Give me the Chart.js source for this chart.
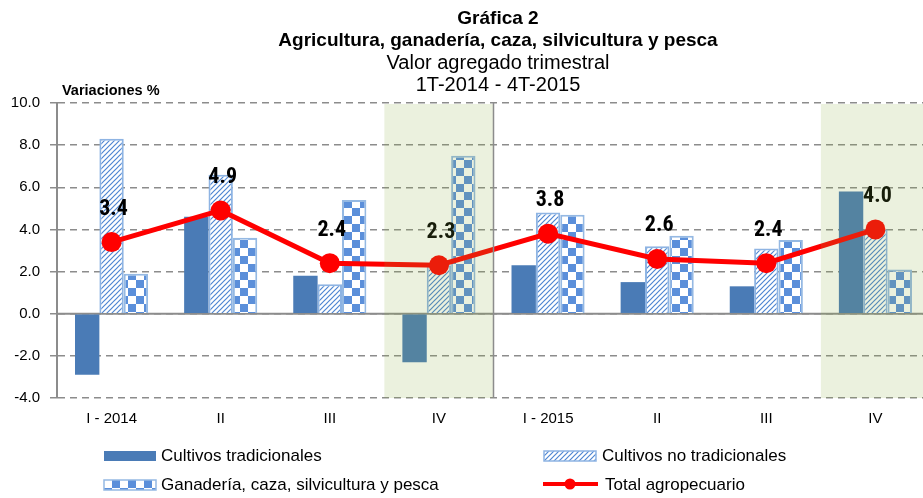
<!DOCTYPE html>
<html><head><meta charset="utf-8">
<script src="https://cdn.jsdelivr.net/npm/chart.js@4.4.0/dist/chart.umd.min.js"></script>
<style>
html,body{margin:0;padding:0;background:#fff;overflow:hidden;}
#wrap{width:923px;height:498px;overflow:hidden;position:relative;}
canvas{display:block;}
</style></head><body>
<div id="wrap"><canvas id="c" width="940" height="498"></canvas></div>
<script>
const categories = ['I - 2014', 'II', 'III', 'IV', 'I - 2015', 'II', 'III', 'IV'];
const cultivosTradicionales = [-2.9, 4.6, 1.8, -2.3, 2.3, 1.5, 1.3, 5.8];
const cultivosNoTradicionales = [8.3, 6.6, 1.4, 2.3, 4.8, 3.2, 3.1, 4.0];
const ganaderia = [1.9, 3.6, 5.4, 7.5, 4.7, 3.7, 3.5, 2.1];
const totalAgropecuario = [3.4, 4.9, 2.4, 2.3, 3.8, 2.6, 2.4, 4.0];
const yMin = -4, yMax = 10, yStep = 2;
const shadedCategories = [3, 7];
const seriesNames = ['Cultivos tradicionales', 'Cultivos no tradicionales', 'Ganadería, caza, silvicultura y pesca', 'Total agropecuario'];
const titleLines = ['Gráfica 2', 'Agricultura, ganadería, caza, silvicultura y pesca', 'Valor agregado trimestral', '1T-2014 - 4T-2015'];
const yAxisTitle = 'Variaciones %';

const FONT = '"Liberation Sans", Arial, sans-serif';
const NARROW = '"Liberation Sans Narrow", "Arial Narrow", "Roboto Condensed", "Liberation Sans", sans-serif';

function hatchPattern() {
  const c = document.createElement('canvas'); c.width = 5; c.height = 5;
  const g = c.getContext('2d');
  g.fillStyle = '#ffffff'; g.fillRect(0, 0, 5, 5);
  g.strokeStyle = '#4f86d2'; g.lineWidth = 1.2;
  g.beginPath();
  g.moveTo(0, 5); g.lineTo(5, 0);
  g.moveTo(-1, 1); g.lineTo(1, -1);
  g.moveTo(4, 6); g.lineTo(6, 4);
  g.stroke();
  return g.createPattern(c, 'repeat');
}
function checkPattern() {
  const c = document.createElement('canvas'); c.width = 16; c.height = 16;
  const g = c.getContext('2d');
  g.fillStyle = '#ffffff'; g.fillRect(0, 0, 16, 16);
  g.fillStyle = '#5b8fda';
  g.fillRect(0, 0, 8, 8); g.fillRect(8, 8, 8, 8);
  return g.createPattern(c, 'repeat');
}
const ctx0 = document.getElementById('c').getContext('2d');
const HATCH = hatchPattern();
const CHECK = checkPattern();
const DARK = '#4a7bb6';
const RED = '#ff0000';
const GRID = '#8c8c8c';

const overlay = {
  id: 'overlay',
  beforeDatasetsDraw(chart) {
    const {ctx, chartArea: a, scales: {y}} = chart;
    const y0 = y.getPixelForValue(0);
    ctx.save();
    ctx.strokeStyle = GRID; ctx.lineWidth = 2;
    ctx.beginPath(); ctx.moveTo(a.left, y0); ctx.lineTo(a.right, y0); ctx.stroke();
    ctx.restore();
  },
  afterDatasetsDraw(chart) {
    const {ctx, chartArea: a, scales: {x}} = chart;
    ctx.save();
    const meta = chart.getDatasetMeta(3);
    ctx.font = 'bold 22px ' + NARROW;
    ctx.fillStyle = '#000';
    ctx.textAlign = 'center'; ctx.textBaseline = 'middle';
    meta.data.forEach((pt, i) => {
      ctx.fillText(totalAgropecuario[i].toFixed(1), pt.x + 2, pt.y - 33);
    });
    const half = (x.getPixelForTick(1) - x.getPixelForTick(0)) / 2;
    ctx.fillStyle = 'rgba(138,173,62,0.17)';
    shadedCategories.forEach(i => {
      const cx = x.getPixelForTick(i);
      ctx.fillRect(cx - half, a.top + 1, 2 * half, a.bottom - a.top - 1);
    });
    const sx = x.getPixelForTick(4) - half;
    ctx.strokeStyle = GRID; ctx.lineWidth = 1.5;
    ctx.beginPath(); ctx.moveTo(sx, a.top); ctx.lineTo(sx, a.bottom); ctx.stroke();
    ctx.restore();
  },
  afterDraw(chart) {
    const {ctx} = chart;
    ctx.save();
    ctx.fillStyle = '#000';
    ctx.textAlign = 'center'; ctx.textBaseline = 'middle';
    const ty = [19, 41, 63, 85];
    titleLines.forEach((t, i) => {
      ctx.font = (i < 2 ? 'bold 19px ' : '20px ') + FONT;
      ctx.fillText(t, 498, ty[i]);
    });
    ctx.textAlign = 'left';
    ctx.font = 'bold 14.5px ' + FONT;
    ctx.fillText(yAxisTitle, 62, 91);
    ctx.font = '17px ' + FONT;
    const r1 = 456, r2 = 485;
    ctx.fillStyle = DARK; ctx.fillRect(104, r1 - 5, 52, 10);
    ctx.fillStyle = '#000'; ctx.fillText(seriesNames[0], 161, r1);
    ctx.fillStyle = HATCH; ctx.fillRect(544, r1 - 5, 52, 10);
    ctx.strokeStyle = '#8eb4e3'; ctx.lineWidth = 1.5; ctx.strokeRect(544, r1 - 5, 52, 10);
    ctx.fillStyle = '#000'; ctx.fillText(seriesNames[1], 602, r1);
    ctx.fillStyle = CHECK; ctx.fillRect(104, r2 - 5, 52, 10);
    ctx.strokeStyle = '#95b9e3'; ctx.strokeRect(104, r2 - 5, 52, 10);
    ctx.fillStyle = '#000'; ctx.fillText(seriesNames[2], 161, r2);
    ctx.strokeStyle = RED; ctx.lineWidth = 4;
    ctx.beginPath(); ctx.moveTo(543, r2 - 1); ctx.lineTo(598, r2 - 1); ctx.stroke();
    ctx.fillStyle = RED; ctx.beginPath(); ctx.arc(570, r2 - 1, 5.5, 0, Math.PI * 2); ctx.fill();
    ctx.fillStyle = '#000'; ctx.fillText(seriesNames[3], 605, r2);
    ctx.restore();
  }
};

new Chart(ctx0, {
  type: 'bar',
  data: {
    labels: categories,
    datasets: [
      { label: seriesNames[0], data: cultivosTradicionales, backgroundColor: DARK, borderWidth: 0, order: 1 },
      { label: seriesNames[1], data: cultivosNoTradicionales, backgroundColor: HATCH, borderColor: '#8eb4e3', borderWidth: 2, order: 1 },
      { label: seriesNames[2], data: ganaderia, backgroundColor: CHECK, borderColor: '#95b9e3', borderWidth: 2, order: 1 },
      { type: 'line', label: seriesNames[3], data: totalAgropecuario, borderColor: RED, backgroundColor: RED,
        borderWidth: 5, pointRadius: 10, pointHoverRadius: 10, pointBackgroundColor: RED, pointBorderWidth: 0,
        tension: 0, order: 0 }
    ]
  },
  options: {
    responsive: false,
    animation: false,
    devicePixelRatio: 1,
    layout: { padding: { top: 103, right: 6, left: 0, bottom: 0 } },
    datasets: { bar: { categoryPercentage: 0.67, barPercentage: 1.0 } },
    plugins: { legend: { display: false }, title: { display: false }, tooltip: { enabled: false } },
    scales: {
      x: {
        grid: { display: false, drawTicks: false },
        border: { display: false },
        ticks: { color: '#000', font: { family: FONT, size: 15 }, padding: 12, maxRotation: 0, autoSkip: false },
        afterFit(s) { s.height = 100; }
      },
      y: {
        min: yMin, max: yMax,
        grid: { color: GRID, lineWidth: 1.5, tickLength: 7, tickColor: GRID, tickBorderDash: [], tickWidth: 1.5 },
        border: { display: true, color: GRID, width: 2, dash: [7, 5] },
        ticks: { stepSize: yStep, color: '#000', padding: 10, font: { family: FONT, size: 15 },
                 callback: v => Number(v).toFixed(1) },
        afterFit(s) { s.width = 57; }
      }
    }
  },
  plugins: [overlay]
});
</script>
</body></html>
